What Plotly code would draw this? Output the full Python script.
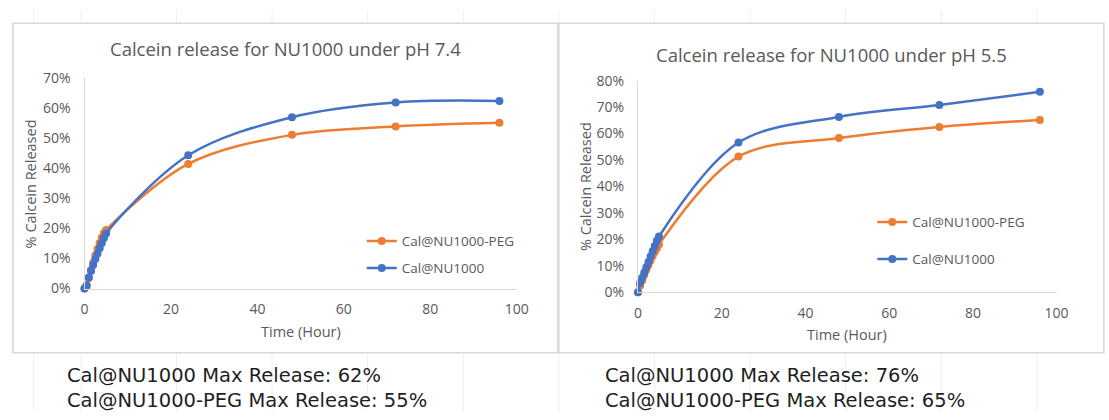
import plotly.graph_objects as go

# ---------------- data ----------------
hours = [0, 0.5, 1, 1.5, 2, 2.5, 3, 3.5, 4, 4.5, 5, 24, 48, 72, 96]

ph74_nu1000 = [0, 0.8, 3.7, 5.8, 7.8, 9.8, 11.6, 13.4, 15.2, 16.8, 18.3, 44.4, 57.1, 62.0, 62.5]
ph74_peg = [0, 1.2, 3.5, 6.2, 8.6, 11.0, 13.2, 15.2, 17.0, 18.5, 19.5, 41.5, 51.2, 54.0, 55.2]

ph55_nu1000 = [0, 3.5, 5.5, 7.5, 9.5, 11.5, 13.5, 15.5, 17.5, 19.5, 21.1, 56.6, 66.3, 70.8, 75.8]
ph55_peg = [0, 2.5, 4.5, 6.5, 8.5, 10.3, 12.0, 13.7, 15.2, 16.7, 18.1, 51.3, 58.3, 62.5, 65.1]

titles = ["Calcein release for NU1000 under pH 7.4", "Calcein release for NU1000 under pH 5.5"]
series_names = ["Cal@NU1000-PEG", "Cal@NU1000"]
x_title = "Time (Hour)"
y_title = "% Calcein Released"
summary_left = ["Cal@NU1000 Max Release: 62%", "Cal@NU1000-PEG Max Release: 55%"]
summary_right = ["Cal@NU1000 Max Release: 76%", "Cal@NU1000-PEG Max Release: 65%"]

# ---------------- styling ----------------
W, H = 1109, 420
ORANGE = "#ED7D31"
BLUE = "#4472C4"
GREY_TXT = "#595959"
AXIS_LINE = "#d9d9d9"
FONT = "Open Sans"


def px(x):
    return x / W


def py(y):
    return 1 - y / H


fig = go.Figure()


def add_series(xa, ya, yvals, name, color, legend):
    fig.add_trace(go.Scatter(
        x=hours, y=yvals, name=name, mode="lines+markers",
        xaxis=xa, yaxis=ya, legend=legend, legendgroup=name + legend,
        line=dict(color=color, width=2.5, shape="spline", smoothing=1.0),
        marker=dict(color=color, size=8),
        cliponaxis=False,
    ))


add_series("x", "y", ph74_peg, series_names[0], ORANGE, "legend")
add_series("x", "y", ph74_nu1000, series_names[1], BLUE, "legend")
add_series("x2", "y2", ph55_peg, series_names[0], ORANGE, "legend2")
add_series("x2", "y2", ph55_nu1000, series_names[1], BLUE, "legend2")

tickfont = dict(family=FONT, size=14, color=GREY_TXT)


def xaxis(domain, anchor):
    return dict(domain=domain, anchor=anchor, range=[0, 100], dtick=20,
                showgrid=False, zeroline=False, showline=True,
                linecolor=AXIS_LINE, linewidth=1.3, ticks="",
                tickfont=tickfont, ticklabelstandoff=8, fixedrange=True)


def yaxis(domain, anchor, top):
    return dict(domain=domain, anchor=anchor, range=[0, top], dtick=10,
                ticksuffix="%", showgrid=False, zeroline=False, showline=True,
                linecolor=AXIS_LINE, linewidth=1.3, ticks="",
                tickfont=tickfont, ticklabelstandoff=10, fixedrange=True)


legend_common = dict(
    xanchor="left", yanchor="top", bgcolor="rgba(0,0,0,0)",
    font=dict(family=FONT, size=13.5, color=GREY_TXT),
    traceorder="grouped", itemclick=False, itemdoubleclick=False,
)

shapes = []
# faint spreadsheet grid outside the chart boxes
grid_cols = [30] + [78 + 97 * k for k in range(12)]
for gx in grid_cols:
    for (ya0, ya1) in [(0, 14), (359, 420)]:
        shapes.append(dict(type="line", xref="paper", yref="paper",
                           x0=px(gx), x1=px(gx), y0=py(ya0), y1=py(ya1),
                           line=dict(color="#efefef", width=1), layer="below"))
# chart boxes
for (bx0, bx1) in [(9, 562), (563, 1116)]:
    shapes.append(dict(type="rect", xref="paper", yref="paper",
                       x0=px(bx0), x1=px(bx1), y0=py(359), y1=py(14),
                       line=dict(color="#d9d9d9", width=1.5),
                       fillcolor="white", layer="below"))

annotations = []
# chart titles
for cx, cy, t in [(286, 40, titles[0]), (840, 47, titles[1])]:
    annotations.append(dict(text=t, x=px(cx), y=py(cy), xref="paper", yref="paper",
                            xanchor="center", yanchor="middle", showarrow=False,
                            font=dict(family=FONT, size=18.5, color=GREY_TXT)))
# axis titles
for cx, cy in [(301, 337), (855, 340)]:
    annotations.append(dict(text=x_title, x=px(cx), y=py(cy), xref="paper", yref="paper",
                            xanchor="center", yanchor="middle", showarrow=False,
                            font=dict(family=FONT, size=14.5, color=GREY_TXT)))
for cx, cy in [(27, 182), (590, 185)]:
    annotations.append(dict(text=y_title, x=px(cx), y=py(cy), xref="paper", yref="paper",
                            xanchor="center", yanchor="middle", showarrow=False,
                            textangle=-90,
                            font=dict(family=FONT, size=14.5, color=GREY_TXT)))
# summary text below the charts (two lines per block)
for lx, lines in [(62, summary_left), (608, summary_right)]:
    annotations.append(dict(text="<br>".join(lines), x=px(lx), y=py(395.5),
                            xref="paper", yref="paper", align="left",
                            xanchor="left", yanchor="middle", showarrow=False,
                            font=dict(family="DejaVu Sans", size=19.5, color="#1f1f1f")))

fig.update_layout(
    width=W, height=H, margin=dict(l=0, r=0, t=0, b=0),
    paper_bgcolor="white", plot_bgcolor="rgba(0,0,0,0)",
    xaxis=xaxis([px(81.7), px(520.2)], "y"),
    yaxis=yaxis([py(291.7), py(71.7)], "x", 70),
    xaxis2=xaxis([px(643.3), px(1068)], "y2"),
    yaxis2=yaxis([py(295.7), py(74)], "x2", 80),
    legend=dict(x=px(363), y=py(226), tracegroupgap=6.5, **legend_common),
    legend2=dict(x=px(881), y=py(206), tracegroupgap=16.5, **legend_common),
    shapes=shapes, annotations=annotations,
    showlegend=True,
)

fig.write_html("out.html", config={"displayModeBar": False})
